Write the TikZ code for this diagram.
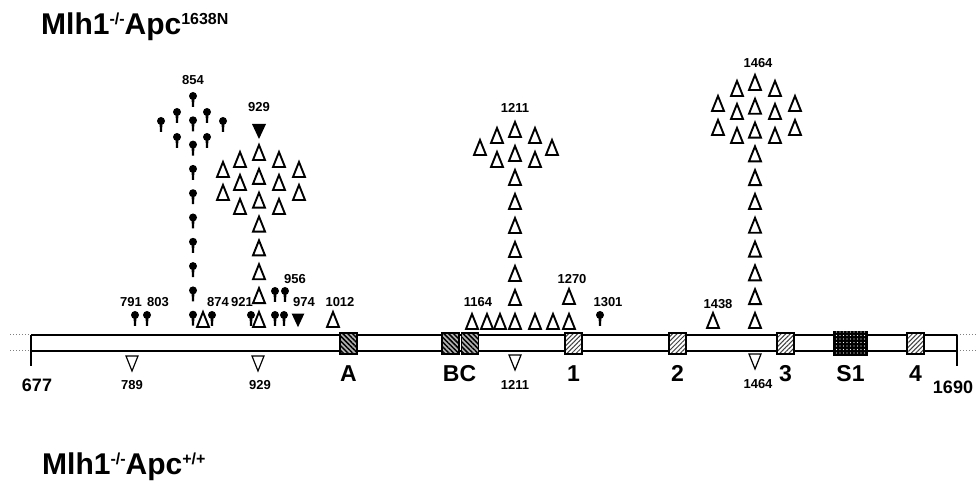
\documentclass[tikz,border=0pt]{standalone}
\usepackage{fontspec}
\setmainfont{Liberation Sans}
\usetikzlibrary{positioning}
\usetikzlibrary{patterns.meta}

\newcommand{\supx}[1]{\raisebox{10pt}{\fontsize{16}{16}\selectfont #1}}

\tikzset{
	uptri/.pic={\draw[line width=1.9pt] (-6,7) -- (0,-8) -- (6,7) -- cycle;},
	dntri/.pic={\draw[line width=1.2pt] (-6,-8) -- (0,7) -- (6,-8) -- cycle;},
	fulltri/.pic={\fill (-7,-7) -- (0,8) -- (7,-7) -- cycle;},
	lolli/.pic={\fill (0,-1) circle (4pt); \fill (-1.4,0) -- (1.4,0) -- (1.1,10) -- (-1.1,10) -- cycle;},
}

\begin{document}
\begin{tikzpicture}[x=1pt, y=-1pt]
	\tikzstyle{num}=[inner sep=0pt, font=\bfseries\fontsize{13}{13}\selectfont]
	\tikzstyle{endnum}=[inner sep=0pt, font=\bfseries\fontsize{18}{18}\selectfont]
	\tikzstyle{dom}=[inner sep=0pt, font=\bfseries\fontsize{23}{23}\selectfont]
	\tikzstyle{headline}=[inner sep=0pt, anchor=base west, font=\bfseries\fontsize{30}{30}\selectfont]
	\tikzstyle{bar}=[line width=1.5pt]
	\tikzstyle{ext}=[gray, dotted, line width=1pt]
	\tikzstyle{exonbox}=[draw=black, line width=1.2pt, minimum width=17pt, minimum height=21pt, inner sep=0pt]
	\tikzstyle{darkhatch}=[exonbox, preaction={fill=gray!60}, pattern={Lines[angle=-45,distance=3.4pt,line width=1.5pt]}]
	\tikzstyle{lighthatch}=[exonbox, preaction={fill=white}, pattern={Lines[angle=45,distance=3.2pt,line width=1pt]}, pattern color=black!75]
	\tikzstyle{dotbox}=[exonbox, fill=black, minimum width=33pt, minimum height=23pt, postaction={pattern={Dots[distance=3.5pt,radius=0.55pt]}, pattern color=white}]

	\useasboundingbox (0,0) rectangle (978,486);

	% titles
	\node[headline] (top) at (41,35) {Mlh1\supx{-/-}Apc\supx{1638N}};
	\node[headline] (bottom) at (42,475) {Mlh1\supx{-/-}Apc\supx{+/+}};

	% the bar
	\coordinate (lt) at (31,335);
	\coordinate (lb) at (31,351);
	\coordinate (rt) at (957,335);
	\coordinate (rb) at (957,351);
	\draw[ext] (10,335) -- (lt);
	\draw[ext] (10,351) -- (lb);
	\draw[ext] (rt) -- (978,335);
	\draw[ext] (rb) -- (978,351);
	\draw[bar] (lt) -- (rt);
	\draw[bar] (lb) -- (rb);
	\draw[bar] (lt) -- (31,366);
	\draw[bar] (rt) -- (957,366);

	\node[darkhatch] (boxA) at (348.5,343.5) {};
	\node[darkhatch] (boxB) at (450.5,343.5) {};
	\node[darkhatch] (boxC) at (470,343.5) {};
	\node[lighthatch] (box1) at (573.5,343.5) {};
	\node[lighthatch] (box2) at (677.5,343.5) {};
	\node[lighthatch] (box3) at (785.5,343.5) {};
	\node[dotbox] (boxS) at (850.5,343.5) {};
	\node[lighthatch] (box4) at (915.5,343.5) {};

	\node[dom, below=11pt of boxA] (labA) {A};
	\node[dom, below=11pt of boxB.south east] (labBC) {BC};
	\node[dom, below=11pt of box1] (lab1) {1};
	\node[dom, below=11pt of box2] (lab2) {2};
	\node[dom, below=11pt of box3] (lab3) {3};
	\node[dom, below=9.5pt of boxS] (labS) {S1};
	\node[dom, below=11pt of box4] (lab4) {4};
	\node[endnum] (start) at (37,385) {677};
	\node[endnum] (stop) at (953,387) {1690};

	% below the bar
	\foreach \x/\y in {132/364, 258/364, 515/363, 755/362}
		\pic at (\x,\y) {dntri};
	\node[num] (d789) at (132,385) {789};
	\node[num] (d929) at (260,385) {929};
	\node[num] (d1211) at (515,385) {1211};
	\node[num] (d1464) at (758,384) {1464};

	% lollipops
	\foreach \k in {0,...,9}
		\pic at (193,{97+24.3*\k}) {lolli};
	\foreach \x/\y in {177/113, 207/113, 161/122, 223/122, 177/138, 207/138}
		\pic at (\x,\y) {lolli};
	\foreach \x/\y in {135/316, 147/316, 212/316, 251/316, 275/316, 284/316, 275/292, 285/292, 600/316}
		\pic at (\x,\y) {lolli};

	% triangles round 929
	\foreach \k in {0,...,7}
		\pic at (259,{320-23.86*\k}) {uptri};
	\foreach \x/\y in {240/160, 240/183, 240/207, 279/160, 279/183, 279/207, 223/170, 223/193, 299/170, 299/193, 203/320, 333/320}
		\pic at (\x,\y) {uptri};
	\pic at (259,131) {fulltri};
	\pic[scale=0.9] at (298,320) {fulltri};

	% triangles round 1211
	\foreach \k in {0,...,8}
		\pic at (515,{322-24*\k}) {uptri};
	\foreach \x/\y in {497/136, 497/160, 535/136, 535/160, 480/148, 552/148, 472/322, 487/322, 500/322, 535/322, 553/322, 569/322, 569/297}
		\pic at (\x,\y) {uptri};

	% triangles round 1464
	\foreach \k in {0,...,10}
		\pic at (755,{321-23.8*\k}) {uptri};
	\foreach \x/\y in {737/89, 737/112, 737/136, 775/89, 775/112, 775/136, 718/104, 718/128, 795/104, 795/128, 713/321}
		\pic at (\x,\y) {uptri};

	% numbers above
	\node[num] (n854) at (193,80) {854};
	\node[num] (n929) at (259,107) {929};
	\node[num] (n1211) at (515,108) {1211};
	\node[num] (n1464) at (758,63) {1464};
	\node[num] (n791) at (131,302) {791};
	\node[num] (n803) at (158,302) {803};
	\node[num] (n874) at (218,302) {874};
	\node[num] (n921) at (242,302) {921};
	\node[num] (n956) at (295,279) {956};
	\node[num] (n974) at (304,302) {974};
	\node[num] (n1012) at (340,302) {1012};
	\node[num] (n1164) at (478,302) {1164};
	\node[num] (n1270) at (572,279) {1270};
	\node[num] (n1301) at (608,302) {1301};
	\node[num] (n1438) at (718,304) {1438};
\end{tikzpicture}
\end{document}
